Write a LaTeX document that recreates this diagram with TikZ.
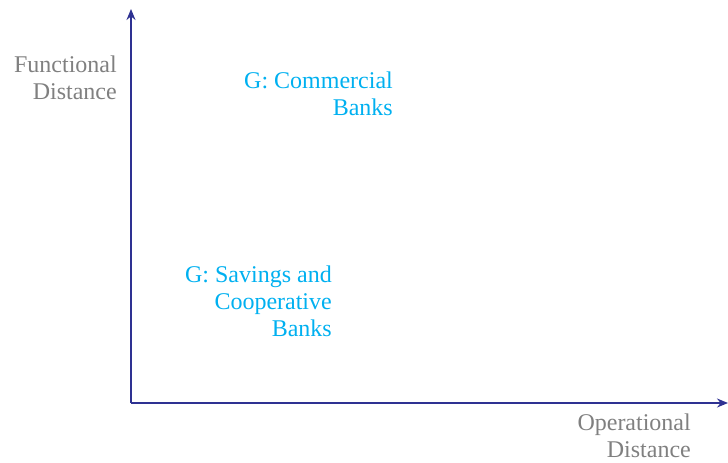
\documentclass[tikz,border=0pt]{standalone}
\usepackage{fontspec}
\setmainfont{Liberation Serif}
\usetikzlibrary{arrows.meta}
\definecolor{axisblue}{RGB}{46,49,146}
\definecolor{labelgray}{RGB}{128,128,128}
\definecolor{groupcyan}{RGB}{0,176,240}
\tikzset{
  axis/.style={draw=axisblue,line width=1.6pt,-{Stealth[length=11pt,width=9pt]}},
  axislabel/.style={text=labelgray,align=right,anchor=east,inner sep=0pt,font=\fontsize{24}{27}\selectfont},
  grouplabel/.style={text=groupcyan,align=right,anchor=east,inner sep=0pt,font=\fontsize{24}{27}\selectfont}
}
\begin{document}
\begin{tikzpicture}[x=1pt,y=-1pt]
   \useasboundingbox (0,0) rectangle (728,463);
   % axes
   \coordinate (o) at (131,403);
   \coordinate (ytop) at (131,9);
   \coordinate (xend) at (728,403);
   \draw[axis] (o) -- (ytop);
   \draw[axis] (o) -- (xend);
   % axis labels
   \node[axislabel] (fd) at (117,78) {Functional\\Distance};
   \node[axislabel] (od) at (691,436) {Operational\\Distance};
   % groups
   \node[grouplabel] (cb) at (393,94) {G: Commercial\\Banks};
   \node[grouplabel] (sb) at (332,301) {G: Savings and\\Cooperative\\Banks};
 \end{tikzpicture}
\end{document}
